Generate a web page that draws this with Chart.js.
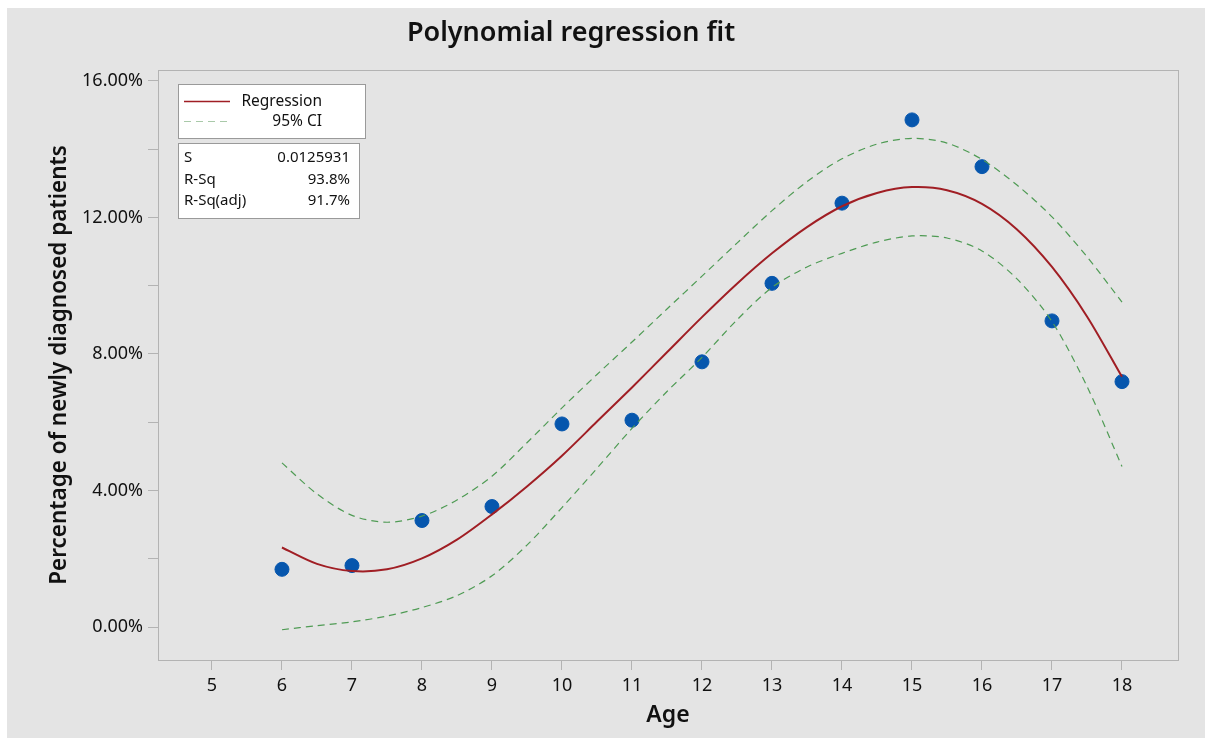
<!DOCTYPE html>
<html>
<head>
<meta charset="utf-8">
<script src="https://cdn.jsdelivr.net/npm/chart.js@4.4.1/dist/chart.umd.min.js"></script>
<style>
  html, body { margin: 0; padding: 0; background: #ffffff; }
  #wrap { position: absolute; left: 7px; top: 8px; width: 1198px; height: 730px; background: #e4e4e4; }
  canvas { display: block; }
</style>
</head>
<body>
<div id="wrap"><canvas id="c" width="1198" height="730"></canvas></div>
<script>
// ---- data ----
const ages = [6, 7, 8, 9, 10, 11, 12, 13, 14, 15, 16, 17, 18];
const pctNew = [1.69, 1.80, 3.12, 3.53, 5.95, 6.06, 7.77, 10.07, 12.42, 14.86, 13.49, 8.97, 7.19];

const curveX = [6, 6.5, 7, 7.5, 8, 8.5, 9, 9.5, 10, 10.5, 11, 11.5, 12, 12.5, 13, 13.5, 14, 14.5, 15, 15.5, 16, 16.5, 17, 17.5, 18];
const regressionY = [2.33, 1.85, 1.64, 1.69, 2.01, 2.56, 3.30, 4.12, 5.02, 6.02, 7.02, 8.05, 9.08, 10.06, 10.95, 11.72, 12.33, 12.72, 12.89, 12.80, 12.40, 11.65, 10.55, 9.10, 7.33];
const ciUpperY = [4.81, 3.90, 3.27, 3.07, 3.25, 3.72, 4.42, 5.40, 6.42, 7.40, 8.35, 9.32, 10.28, 11.25, 12.20, 13.05, 13.72, 14.15, 14.32, 14.18, 13.70, 12.95, 12.02, 10.85, 9.52];
const ciLowerY = [-0.08, 0.04, 0.15, 0.32, 0.57, 0.92, 1.50, 2.40, 3.50, 4.65, 5.82, 6.90, 7.90, 9.00, 9.95, 10.55, 10.95, 11.28, 11.46, 11.40, 11.02, 10.20, 8.95, 7.05, 4.70];

const xTicks = [5, 6, 7, 8, 9, 10, 11, 12, 13, 14, 15, 16, 17, 18];
const yTicks = [0, 2, 4, 6, 8, 10, 12, 14, 16];
const yLabelled = [0, 4, 8, 12, 16];

const statsRows = [["S", "0.0125931"], ["R-Sq", "93.8%"], ["R-Sq(adj)", "91.7%"]];

// ---- helpers ----
const pairs = (xs, ys) => xs.map((x, i) => ({ x: x, y: ys[i] }));
const FONT = "'Noto Sans', 'Open Sans', sans-serif";
const RED = '#a01e24';
const GREEN = '#4f9b54';
const AXIS = '#b3b3b3';

const decorations = {
  id: 'decorations',
  afterDraw(chart) {
    const ctx = chart.ctx;
    const a = chart.chartArea;
    ctx.save();
    // plot frame
    ctx.strokeStyle = AXIS;
    ctx.lineWidth = 1;
    ctx.strokeRect(a.left + 0.5, a.top + 0.5, a.right - a.left, a.bottom - a.top);

    // title
    ctx.fillStyle = '#111111';
    ctx.font = "600 27px " + FONT;
    ctx.textAlign = 'center';
    ctx.textBaseline = 'middle';
    ctx.fillText('Polynomial regression fit', 564, 25);

    // legend box
    ctx.fillStyle = '#ffffff';
    ctx.fillRect(171, 76, 187, 54);
    ctx.strokeStyle = '#9a9a9a';
    ctx.strokeRect(171.5, 76.5, 187, 54);
    ctx.lineWidth = 1.6;
    ctx.strokeStyle = RED;
    ctx.beginPath(); ctx.moveTo(177, 93.5); ctx.lineTo(223, 93.5); ctx.stroke();
    ctx.lineWidth = 1.2;
    ctx.strokeStyle = '#a9c9a9';
    ctx.setLineDash([7, 5]);
    ctx.beginPath(); ctx.moveTo(177, 113.5); ctx.lineTo(223, 113.5); ctx.stroke();
    ctx.setLineDash([]);
    ctx.fillStyle = '#111111';
    ctx.font = "15.5px " + FONT;
    ctx.textAlign = 'right';
    ctx.fillText('Regression', 315, 94);
    ctx.fillText('95% CI', 315, 114);

    // stats box
    ctx.fillStyle = '#ffffff';
    ctx.fillRect(171, 135, 181, 75);
    ctx.lineWidth = 1;
    ctx.strokeStyle = '#9a9a9a';
    ctx.strokeRect(171.5, 135.5, 181, 75);
    ctx.fillStyle = '#111111';
    ctx.font = "15px " + FONT;
    const rowY = [150, 172, 193];
    statsRows.forEach((r, i) => {
      ctx.textAlign = 'left';
      ctx.fillText(r[0], 177, rowY[i]);
      ctx.textAlign = 'right';
      ctx.fillText(r[1], 343, rowY[i]);
    });
    ctx.restore();
  }
};

new Chart(document.getElementById('c'), {
  type: 'scatter',
  data: {
    datasets: [
      {
        type: 'line',
        label: '95% CI upper',
        data: pairs(curveX, ciUpperY),
        borderColor: GREEN,
        borderWidth: 1.2,
        borderDash: [7, 5],
        pointRadius: 0,
        tension: 0.3,
        fill: false
      },
      {
        type: 'line',
        label: '95% CI lower',
        data: pairs(curveX, ciLowerY),
        borderColor: GREEN,
        borderWidth: 1.2,
        borderDash: [7, 5],
        pointRadius: 0,
        tension: 0.3,
        fill: false
      },
      {
        type: 'line',
        label: 'Regression',
        data: pairs(curveX, regressionY),
        borderColor: RED,
        borderWidth: 2,
        pointRadius: 0,
        tension: 0.3,
        fill: false
      },
      {
        type: 'scatter',
        label: 'Observed',
        data: pairs(ages, pctNew),
        backgroundColor: '#0656ad',
        borderColor: '#0656ad',
        pointRadius: 7,
        pointHoverRadius: 7
      }
    ]
  },
  options: {
    responsive: false,
    animation: false,
    layout: { padding: { left: 0, right: 27, top: 62, bottom: 0 } },
    plugins: {
      legend: { display: false },
      title: { display: false },
      tooltip: { enabled: false }
    },
    scales: {
      x: {
        type: 'linear',
        min: 4.229,
        max: 18.8,
        afterBuildTicks: (s) => { s.ticks = xTicks.map(v => ({ value: v })); },
        afterFit: (s) => { s.height = 78; },
        border: { display: false },
        grid: { drawOnChartArea: false, drawTicks: true, tickLength: 10, color: AXIS },
        ticks: { color: '#111111', font: { family: FONT, size: 18 }, padding: 5, maxRotation: 0,
                 callback: (v) => String(v) },
        title: { display: true, text: 'Age', color: '#111111',
                 font: { family: FONT, size: 23, weight: '600' }, padding: { top: 0, bottom: 9 } }
      },
      y: {
        type: 'linear',
        min: -0.967,
        max: 16.322,
        afterBuildTicks: (s) => { s.ticks = yTicks.map(v => ({ value: v })); },
        afterFit: (s) => { s.width = 151; },
        border: { display: false },
        grid: { drawOnChartArea: false, drawTicks: true, tickLength: 10, color: AXIS },
        ticks: { color: '#111111', font: { family: FONT, size: 18 }, padding: 5,
                 callback: (v) => yLabelled.includes(v) ? v.toFixed(2) + '%' : '' },
        title: { display: true, text: 'Percentage of newly diagnosed patients', color: '#111111',
                 font: { family: FONT, size: 22.5, weight: '600' }, padding: { top: 39, bottom: 0 } }
      }
    }
  },
  plugins: [decorations]
});
</script>
</body>
</html>
